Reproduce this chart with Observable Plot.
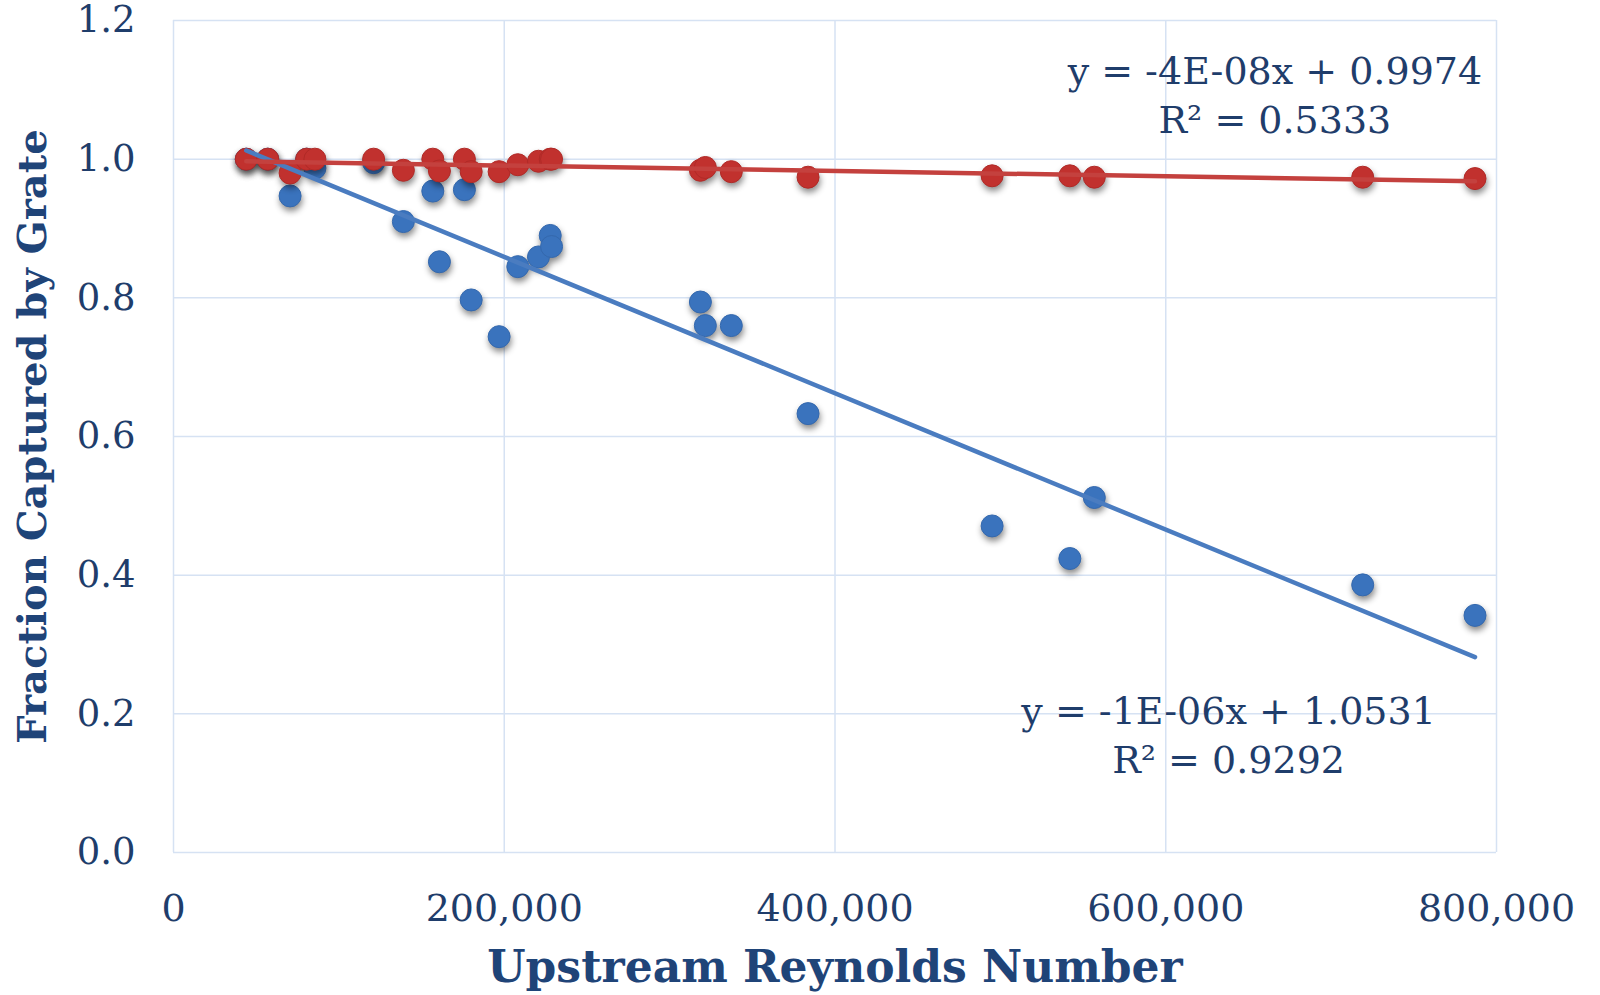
<!DOCTYPE html>
<html>
<head>
<meta charset="utf-8">
<script src="https://cdn.jsdelivr.net/npm/d3@7"></script>
<script src="https://cdn.jsdelivr.net/npm/@observablehq/plot@0.6"></script>
<style>
  html, body { margin: 0; padding: 0; background: #ffffff; }
  #chart svg { display: block; }
</style>
</head>
<body>
<div id="chart"></div>
<script>
// Upstream Reynolds number for each test (shared by both series)
const reynolds = [44000, 57000, 70500, 80500, 85500, 121000, 139000, 156800, 160800, 175900,
  180000, 196900, 208200, 220700, 227800, 228600, 318600, 321600, 337300, 383700,
  495000, 542000, 556800, 719100, 787000];
// Blue series: fraction captured
const blueFraction = [1.0, 1.0, 0.947, 1.0, 0.987, 0.995, 0.910, 0.954, 0.852, 0.956,
  0.797, 0.744, 0.845, 0.859, 0.890, 0.874, 0.794, 0.760, 0.760, 0.633,
  0.471, 0.424, 0.512, 0.386, 0.342];
// Red series: fraction captured
const redFraction = [1.0, 1.0, 0.980, 1.0, 1.0, 1.0, 0.984, 1.0, 0.983, 1.0,
  0.982, 0.982, 0.992, 0.997, 1.0, 1.0, 0.984, 0.988, 0.982, 0.974,
  0.976, 0.976, 0.974, 0.974, 0.972];

const xTicks = [0, 200000, 400000, 600000, 800000];
const yTicks = [0, 0.2, 0.4, 0.6, 0.8, 1.0, 1.2];

const equationLabels = [
  {x: 666000, y: 1.096, text: "y = -4E-08x + 0.9974\nR² = 0.5333"},
  {x: 638000, y: 0.173, text: "y = -1E-06x + 1.0531\nR² = 0.9292"}
];

const xTitle = "Upstream Reynolds Number";
const yTitle = "Fraction Captured by Grate";

const blue = reynolds.map((x, i) => ({x, y: blueFraction[i]}));
const red = reynolds.map((x, i) => ({x, y: redFraction[i]}));

const textColor = "#1f3d6b";
const gridColor = "#d6e2f3";
const blueColor = "#3a73bd";
const redColor = "#c1312e";

const chart = Plot.plot({
  width: 1600,
  height: 995,
  marginLeft: 173,
  marginRight: 104,
  marginTop: 20,
  marginBottom: 143,
  style: {fontFamily: "DejaVu Serif", color: textColor, background: "#ffffff", overflow: "visible"},
  x: {domain: [0, 800000], label: null},
  y: {domain: [0, 1.2], label: null},
  marks: [
    Plot.gridX(xTicks, {stroke: gridColor, strokeOpacity: 1, strokeWidth: 1.5}),
    Plot.gridY(yTicks, {stroke: gridColor, strokeOpacity: 1, strokeWidth: 1.5}),
    Plot.axisX(xTicks, {tickSize: 0, tickPadding: 42, fontSize: 38, tickFormat: d3.format(","), fill: textColor, label: null}),
    Plot.axisY(yTicks, {tickSize: 0, tickPadding: 38, fontSize: 37, tickFormat: d3.format(".1f"), fill: textColor, label: null}),
    Plot.dot(blue, {x: "x", y: "y", r: 11, fill: blueColor, stroke: "#3468ad", strokeWidth: 1}),
    Plot.dot(red, {x: "x", y: "y", r: 11, fill: redColor, stroke: "#b02a27", strokeWidth: 1}),
    Plot.linearRegressionY(blue, {x: "x", y: "y", stroke: "#4a7cc0", strokeWidth: 4.5, ci: 0}),
    Plot.linearRegressionY(red, {x: "x", y: "y", stroke: "#c4413e", strokeWidth: 4.5, ci: 0}),
    Plot.text(equationLabels, {x: "x", y: "y", text: "text", fontSize: 38, lineHeight: 1.3, fill: textColor}),
    Plot.text([xTitle], {frameAnchor: "bottom", dy: 115, lineAnchor: "middle", fontSize: 44, fontWeight: "bold", fill: "#1f4478"}),
    Plot.text([yTitle], {frameAnchor: "left", dx: -140, rotate: -90, textAnchor: "middle", lineAnchor: "middle", fontSize: 40, fontWeight: "bold", fill: "#1f4478"})
  ]
});

document.getElementById("chart").appendChild(chart);
chart.querySelectorAll('g[aria-label="dot"]').forEach(g => {
  g.style.filter = "drop-shadow(1px 4px 3px rgba(0,0,0,0.45))";
});
</script>
</body>
</html>
